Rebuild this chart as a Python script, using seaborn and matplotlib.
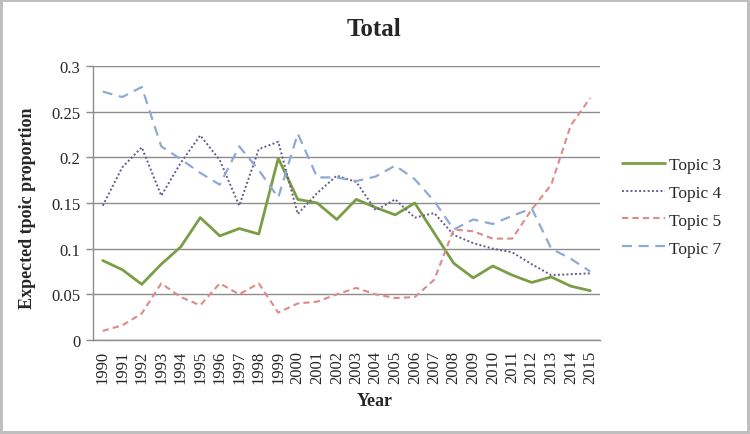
import numpy as np
import pandas as pd
import matplotlib
matplotlib.use("Agg")
import matplotlib.pyplot as plt
import seaborn as sns
from matplotlib.patches import Rectangle

years = list(range(1990, 2016))
year_labels = [str(y) for y in years]
y_ticks = [0, 0.05, 0.1, 0.15, 0.2, 0.25, 0.3]
y_tick_labels = ["0", "0.05", "0.1", "0.15", "0.2", "0.25", "0.3"]

topic3 = [0.087, 0.077, 0.061, 0.083, 0.102, 0.134, 0.114, 0.122, 0.116, 0.199,
          0.154, 0.150, 0.132, 0.154, 0.145, 0.137, 0.150, 0.117, 0.084, 0.068,
          0.081, 0.071, 0.063, 0.069, 0.059, 0.054]
topic4 = [0.147, 0.189, 0.211, 0.158, 0.194, 0.224, 0.197, 0.147, 0.209, 0.217,
          0.138, 0.161, 0.180, 0.173, 0.142, 0.154, 0.134, 0.139, 0.115, 0.106,
          0.100, 0.096, 0.083, 0.071, 0.072, 0.073]
topic5 = [0.010, 0.016, 0.029, 0.062, 0.047, 0.038, 0.062, 0.050, 0.062, 0.030,
          0.040, 0.042, 0.050, 0.057, 0.050, 0.046, 0.047, 0.066, 0.121, 0.119,
          0.111, 0.111, 0.143, 0.170, 0.235, 0.265]
topic7 = [0.272, 0.266, 0.277, 0.212, 0.198, 0.183, 0.170, 0.212, 0.186, 0.156,
          0.226, 0.178, 0.178, 0.174, 0.179, 0.191, 0.176, 0.152, 0.121, 0.132,
          0.127, 0.136, 0.144, 0.100, 0.089, 0.075]

topics = ["Topic 3", "Topic 4", "Topic 5", "Topic 7"]

df = pd.DataFrame({"Year": years, "Topic 3": topic3, "Topic 4": topic4,
                   "Topic 5": topic5, "Topic 7": topic7})
long_df = df.melt(id_vars="Year", var_name="Topic", value_name="Proportion")

palette = {"Topic 3": "#7a9e45", "Topic 4": "#6a5a8c",
           "Topic 5": "#dd8a88", "Topic 7": "#8eaad4"}
dashes = {"Topic 3": "", "Topic 4": (1, 1.2), "Topic 5": (3, 2), "Topic 7": (4.5, 3)}
widths = {"Topic 3": 2.0, "Topic 4": 1.4, "Topic 5": 1.5, "Topic 7": 1.6}

sns.set_style("white")
plt.rcParams["font.family"] = ["Liberation Serif", "DejaVu Serif"]

fig = plt.figure(figsize=(7.5, 4.35), dpi=100)
ax = fig.add_axes([93 / 750, 1 - 341 / 435, (600 - 93) / 750, (341 - 67) / 435])

sns.lineplot(data=long_df, x="Year", y="Proportion", hue="Topic", style="Topic",
             palette=palette, dashes=dashes, hue_order=topics, style_order=topics,
             ax=ax, legend=True)
for line, t in zip(ax.lines, topics):
    line.set_linewidth(widths[t])

ax.set_xlim(1989.5, 2015.5)
ax.set_ylim(0, 0.3)
ax.set_yticks(y_ticks)
ax.set_yticklabels(y_tick_labels, fontsize=12)
ax.set_xticks(years)
ax.set_xticklabels(year_labels, rotation=90, fontsize=12)
ax.set_xticks(np.arange(1989.5, 2016.0, 1.0), minor=True)
ax.tick_params(axis="x", which="major", length=0, pad=7)
ax.tick_params(axis="x", which="minor", length=5, color="#8c8c8c", width=1, direction="out")
ax.tick_params(axis="y", length=5, color="#8c8c8c", width=1, direction="out", left=True, pad=4)
ax.yaxis.grid(True, color="#8c8c8c", linewidth=1)
ax.xaxis.grid(False)
for s in ["top", "right"]:
    ax.spines[s].set_visible(False)
for s in ["left", "bottom"]:
    ax.spines[s].set_color("#8c8c8c")
    ax.spines[s].set_linewidth(1)
ax.set_axisbelow(True)

ax.set_xlabel("")
ax.set_ylabel("")
fig.text(0.5, 1 - 402 / 435, "Year", ha="center", va="center", fontsize=13, fontweight="bold")
fig.text(28 / 750, 1 - 208 / 435, "Expected tpoic proportion", ha="center", va="center",
         rotation=90, fontsize=13, fontweight="bold")
fig.text(374 / 750, 1 - 30 / 435, "Total", ha="center", va="center", fontsize=18, fontweight="bold")

handles, labels = ax.get_legend_handles_labels()
ax.legend_.remove()
leg = fig.legend(handles, labels, loc="center left", bbox_to_anchor=(622 / 750, 1 - 207.5 / 435),
                 frameon=False, fontsize=12.5, handlelength=2.5, handletextpad=0.2,
                 labelspacing=0.68, borderpad=0, borderaxespad=0)
for h, t in zip(leg.legend_handles, topics):
    h.set_linewidth(widths[t])

fig.patches.append(Rectangle((0, 0), 1, 1, transform=fig.transFigure, fill=False,
                             edgecolor="#bfbfbf", linewidth=4.3, zorder=10))

fig.savefig("out.png", dpi=100, facecolor="white")
